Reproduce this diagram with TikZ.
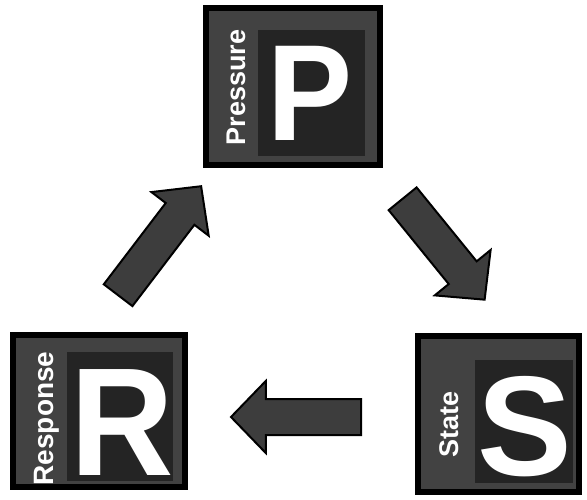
\documentclass[tikz,border=0pt]{standalone}
\usepackage{fontspec}
\setmainfont{Liberation Sans}
\usetikzlibrary{shapes.arrows}
\begin{document}
\begin{tikzpicture}[x=1pt,y=-1pt,
  panel/.style={rectangle, fill=black, draw=none, inner sep=0pt},
  band/.style={fill=black!74},
  core/.style={fill=black!86},
  bigletter/.style={text=white, inner sep=0pt, anchor=base},
  sidelabel/.style={text=white, inner sep=0pt, anchor=base, rotate=90,
    font=\fontsize{27}{27}\selectfont\bfseries},
  blockarrow/.style={single arrow, draw=black, fill=black!76, line width=2pt,
    text height=34pt, text depth=0pt, text width=0pt,
    single arrow head extend=18pt,
    single arrow tip angle=92, inner sep=0pt, anchor=tail}
]
\useasboundingbox (0,0) rectangle (587,499);

% Pressure panel
\node[panel, minimum width=180pt, minimum height=163pt] (pbox) at (293,86.5) {};
\fill[band] ([shift={(6,6)}]pbox.north west) rectangle ([shift={(-6,-6)}]pbox.south east);
\fill[core] ([shift={(55,25)}]pbox.north west) rectangle ([shift={(-18,-12)}]pbox.south east);
\node[sidelabel] (plabel) at (245,87.5) {Pressure};
\node[bigletter, xscale=0.93, font=\fontsize{137}{137}\selectfont\bfseries] (pletter) at (310,140) {P};

% Response panel
\node[panel, minimum width=178pt, minimum height=158pt] (rbox) at (99,411) {};
\fill[band] ([shift={(6,6)}]rbox.north west) rectangle ([shift={(-6,-6)}]rbox.south east);
\fill[core] ([shift={(57,20)}]rbox.north west) rectangle ([shift={(-15,-9)}]rbox.south east);
\node[sidelabel, font=\fontsize{28}{28}\selectfont\bfseries] (rlabel) at (53,418.5) {Response};
\node[bigletter, xscale=0.93, font=\fontsize{154}{154}\selectfont\bfseries] (rletter) at (122,475) {R};

% State panel
\node[panel, minimum width=167pt, minimum height=162pt] (sbox) at (498.5,414) {};
\fill[band] ([shift={(6,6)}]sbox.north west) rectangle ([shift={(-6,-6)}]sbox.south east);
\fill[core] ([shift={(60,27)}]sbox.north west) rectangle ([shift={(-9,-12)}]sbox.south east);
\node[sidelabel] (slabel) at (458,424.5) {State};
\node[bigletter, font=\fontsize{142}{142}\selectfont\bfseries] (sletter) at (524.5,475.5) {S};

% Block arrows
\node[blockarrow, minimum height=137pt, rotate=52.7] (arrRP) at (117.5,296) {};
\node[blockarrow, minimum height=130pt, rotate=-50.9] (arrPS) at (402,198) {};
\node[blockarrow, minimum height=130pt, rotate=180] (arrSR) at (362,417) {};
\end{tikzpicture}
\end{document}
